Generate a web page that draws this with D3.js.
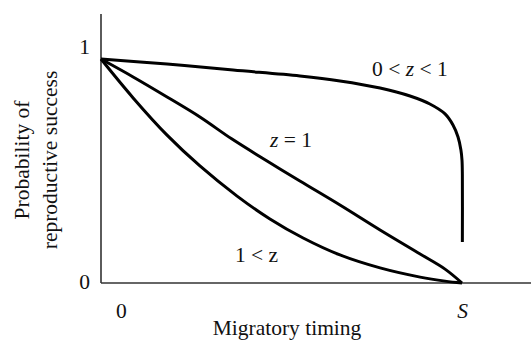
<!DOCTYPE html>
<html>
<head>
<meta charset="utf-8">
<script src="https://cdn.jsdelivr.net/npm/d3@7/dist/d3.min.js"></script>
<style>
  html, body { margin: 0; padding: 0; background: #fff; }
  svg { display: block; }
  svg text { font-family: "Liberation Serif", "Times New Roman", Times, serif; }
</style>
</head>
<body>
<svg id="chart" width="531" height="340"></svg>
<script>
// ---- data (x: migratory timing, 0..S=1 ; y: probability of reproductive success) ----
const seriesNames = ["0 < z < 1", "z = 1", "1 < z"];

const lowZx = [0, 0.183, 0.366, 0.551, 0.662, 0.773, 0.856, 0.911, 0.953, 0.975, 0.989, 0.997, 1.0, 1.001, 1.001];
const lowZy = [0.951, 0.930, 0.904, 0.879, 0.858, 0.828, 0.794, 0.760, 0.718, 0.671, 0.620, 0.565, 0.522, 0.459, 0.174];

const oneZx = [0, 0.089, 0.183, 0.274, 0.363, 0.460, 0.551, 0.662, 0.773, 0.884, 0.953, 1.0];
const oneZy = [0.951, 0.875, 0.790, 0.705, 0.611, 0.518, 0.433, 0.331, 0.225, 0.123, 0.059, 0.0];

const highZx = [0, 0.089, 0.183, 0.274, 0.377, 0.468, 0.560, 0.662, 0.773, 0.884, 0.953, 1.0];
const highZy = [0.951, 0.786, 0.628, 0.497, 0.369, 0.272, 0.191, 0.119, 0.064, 0.025, 0.008, 0.0];

const xTickValues = [0.055, 1];
const xTickLabels = ["0", "S"];
const yTickValues = [0, 1];
const yTickLabels = ["0", "1"];

const labelX = [0.751, 0.468, 0.371];
const labelY = [0.881, 0.576, 0.089];

// ---- drawing ----
const FONT = "'Liberation Serif', 'Times New Roman', Times, serif";
const svg = d3.select("#chart");
const x = d3.scaleLinear().domain([0, 1]).range([101, 462]);
const y = d3.scaleLinear().domain([0, 1]).range([283, 47.5]);

const axisColor = "#333";

// axes lines
svg.append("line")
  .attr("x1", x(0)).attr("x2", 531)
  .attr("y1", y(0)).attr("y2", y(0))
  .attr("stroke", axisColor).attr("stroke-width", 1.6);
svg.append("line")
  .attr("x1", x(0)).attr("x2", x(0))
  .attr("y1", 14).attr("y2", y(0))
  .attr("stroke", axisColor).attr("stroke-width", 1.6);

// x axis tick labels
const xAxis = d3.axisBottom(x)
  .tickValues(xTickValues)
  .tickSize(0)
  .tickPadding(0)
  .tickFormat((d, i) => xTickLabels[i]);
const gx = svg.append("g").attr("transform", `translate(0,${y(0)})`).call(xAxis)
  .attr("font-family", FONT);
gx.select(".domain").remove();
gx.selectAll("text")
  .attr("y", 35).attr("dy", null)
  .attr("font-size", 21.5)
  .attr("font-family", FONT)
  .attr("fill", "#111")
  .attr("font-style", (d, i) => i === 1 ? "italic" : "normal");

// y axis tick labels
const yAxis = d3.axisLeft(y)
  .tickValues(yTickValues)
  .tickSize(0)
  .tickPadding(11)
  .tickFormat((d, i) => yTickLabels[i]);
const gy = svg.append("g").attr("transform", `translate(${x(0)},0)`).call(yAxis)
  .attr("font-family", FONT);
gy.select(".domain").remove();
gy.selectAll("text")
  .attr("dy", "0.26em")
  .attr("font-size", 21.5)
  .attr("font-family", FONT)
  .attr("fill", "#111");

// curves
const line = d3.line()
  .x(d => x(d[0]))
  .y(d => y(d[1]))
  .curve(d3.curveCatmullRom.alpha(0.5));

const series = [
  d3.zip(lowZx, lowZy),
  d3.zip(oneZx, oneZy),
  d3.zip(highZx, highZy)
];

svg.selectAll("path.curve")
  .data(series)
  .join("path")
  .attr("class", "curve")
  .attr("d", line)
  .attr("fill", "none")
  .attr("stroke", "#000")
  .attr("stroke-width", 3)
  .attr("stroke-linejoin", "round");

// curve labels
const lbl = svg.selectAll("text.curve-label")
  .data(seriesNames)
  .join("text")
  .attr("class", "curve-label")
  .attr("x", (d, i) => x(labelX[i]))
  .attr("y", (d, i) => y(labelY[i]))
  .attr("font-size", 21.5)
  .attr("font-family", FONT)
  .attr("fill", "#111");

lbl.each(function(d, i) {
  const t = d3.select(this);
  if (i === 2) { t.text(d); return; }
  const parts = d.split("z");
  parts.forEach((p, k) => {
    t.append("tspan").text(p);
    if (k < parts.length - 1) t.append("tspan").attr("font-style", "italic").text("z");
  });
});

// axis titles
svg.append("text")
  .attr("x", 287).attr("y", 335)
  .attr("text-anchor", "middle")
  .attr("font-size", 21.5)
  .attr("font-family", FONT)
  .attr("fill", "#111")
  .text("Migratory timing");

const yTitle = svg.append("text")
  .attr("transform", "translate(0,160) rotate(-90)")
  .attr("text-anchor", "middle")
  .attr("font-size", 21.5)
  .attr("font-family", FONT)
  .attr("fill", "#111");
yTitle.append("tspan").attr("x", 0).attr("y", 29).text("Probability of");
yTitle.append("tspan").attr("x", 0).attr("y", 57).text("reproductive success");
</script>
</body>
</html>
